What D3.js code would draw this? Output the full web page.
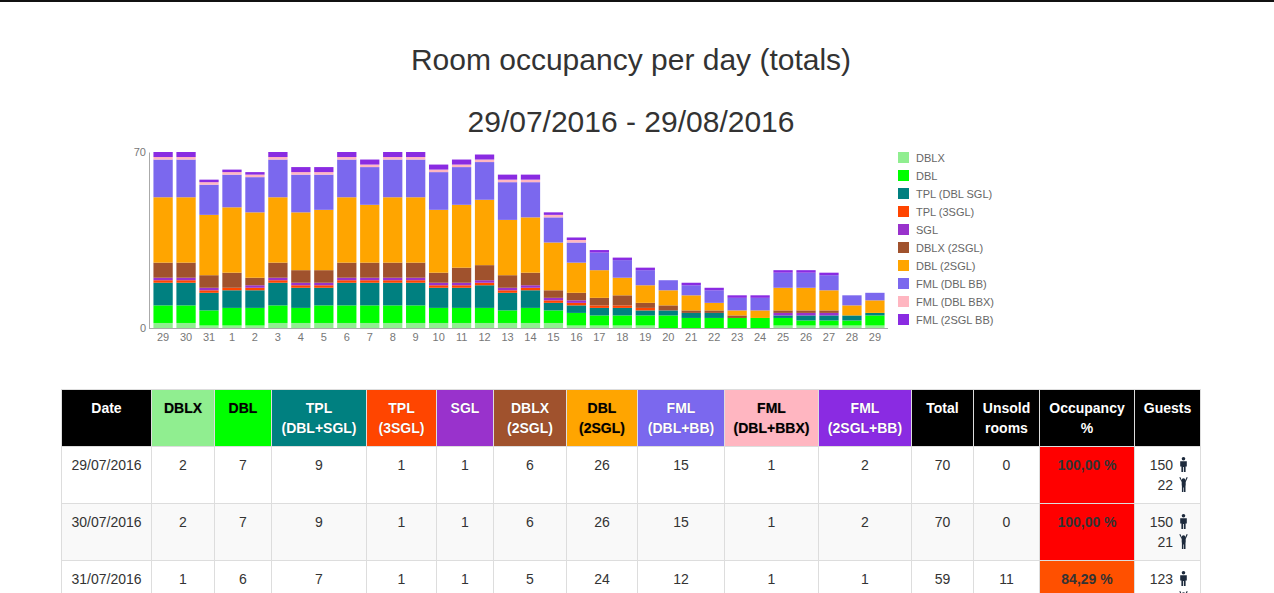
<!DOCTYPE html>
<html>
<head>
<meta charset="utf-8">
<script src="https://cdnjs.cloudflare.com/ajax/libs/d3/7.8.5/d3.min.js"></script>
<style>
  body { margin: 0; background: #fff; font-family: "Liberation Sans", Arial, sans-serif; color: #333; overflow: hidden; }
  .topline { position: absolute; left: 0; top: 0; width: 1274px; height: 2px; background: #111; }
  .title { position: absolute; left: 61px; width: 1140px; text-align: center; font-size: 30px; line-height: 33px; color: #333; }
  #chart { position: absolute; left: 0; top: 0; }
  table { position: absolute; left: 61px; top: 389px; width: 1140px; border-collapse: collapse; table-layout: fixed; font-size: 14px; }
  th, td { border: 1px solid #ddd; padding: 8px 4px; line-height: 20px; vertical-align: top; text-align: center; }
  th { font-weight: bold; height: 39px; text-shadow: 0 0 1px rgba(0,0,0,0.35); }
  td { height: 40px; }
  tr.odd td { background: #fff; }
  tr.even td { background: #f9f9f9; }
  td.occ { font-weight: bold; color: #333; }
  td.guests { text-align: right; padding-right: 12px; }
  .ico { display: inline-block; vertical-align: -2px; margin-left: 6px; }
</style>
</head>
<body>
<div class="topline"></div>
<div class="title" style="top:43px">Room occupancy per day (totals)</div>
<div class="title" style="top:105px">29/07/2016 - 29/08/2016</div>
<svg id="chart" width="1274" height="360"></svg>
<table id="tbl"></table>
<script>
// days on the x axis
let days = ["29","30","31","1","2","3","4","5","6","7","8","9","10","11","12","13","14","15","16","17","18","19","20","21","22","23","24","25","26","27","28","29"];
let dates = ["29/07/2016","30/07/2016","31/07/2016"];

// rooms sold per type, per day
let dblx    = [2,2,1,1,1,2,2,2,2,2,2,2,2,2,2,2,2,2,1,1,1,1,0,0,0,0,0,1,1,1,1,1];
let dbl     = [7,7,6,7,7,7,6,7,7,7,7,7,6,6,6,5,6,5,5,4,4,4,5,4,4,4,4,3,2,2,2,4];
let tpl     = [9,9,7,7,7,9,8,7,9,9,9,9,8,8,9,7,7,3,3,3,3,2,2,2,2,0,0,1,2,2,2,1];
let tpl3    = [1,1,1,1,1,1,1,1,1,1,1,1,1,1,1,1,1,1,1,1,1,1,0,0,0,0,0,0,0,0,0,0];
let sgl     = [1,1,1,0,1,1,1,1,1,1,1,1,1,1,1,1,1,1,1,0,0,0,0,0,0,0,0,1,1,1,0,0];
let dblx2   = [6,6,5,6,3,6,5,5,6,6,6,6,4,6,6,5,5,3,3,3,4,2,2,1,1,1,0,1,1,1,0,0];
let dbl2    = [26,26,24,26,26,26,23,24,26,23,26,26,25,25,26,22,22,19,12,11,7,7,6,6,3,2,3,9,9,8,4,5];
let fmlDbl  = [15,15,12,13,14,15,15,14,15,15,15,15,15,15,15,15,14,10,8,7,7,6,4,4,5,5,5,6,6,6,4,3];
let fmlBbx  = [1,1,1,1,1,1,1,1,1,1,1,1,1,1,1,1,1,1,1,0,0,0,0,0,0,0,0,0,0,0,0,0];
let fml2sgl = [2,2,1,1,1,2,2,2,2,2,2,2,2,2,2,2,2,1,1,1,1,1,0,1,1,1,1,1,1,1,0,0];

let series_names = ["DBLX","DBL","TPL (DBL SGL)","TPL (3SGL)","SGL","DBLX (2SGL)","DBL (2SGL)","FML (DBL BB)","FML (DBL BBX)","FML (2SGL BB)"];
let head_names = ["DBLX","DBL","TPL<br>(DBL+SGL)","TPL<br>(3SGL)","SGL","DBLX<br>(2SGL)","DBL<br>(2SGL)","FML<br>(DBL+BB)","FML<br>(DBL+BBX)","FML<br>(2SGL+BB)"];
let colors = ["#90ee90","#00ff00","#008080","#ff4500","#9932cc","#a0522d","#ffa500","#7b68ee","#ffb6c1","#8a2be2"];
let head_text = ["#000","#000","#fff","#fff","#fff","#fff","#000","#fff","#000","#fff"];

let capacity = 70;
let adults   = [150,150,123];
let children = [22,21,19];

let all_series = [dblx, dbl, tpl, tpl3, sgl, dblx2, dbl2, fmlDbl, fmlBbx, fml2sgl];
let keys = series_names;
let rows = days.map((d, i) => {
  let r = { i: i, day: d };
  keys.forEach((k, j) => r[k] = all_series[j][i]);
  return r;
});

let svg = d3.select("#chart");

//scales
let x_scale = d3.scaleBand()
        .domain(d3.range(days.length))
        .range([150, 888])
        .paddingInner(0.16)
        .paddingOuter(0.15);

let y_scale = d3.scaleLinear()
        .domain([0, capacity])
        .range([328, 152]);

let color = d3.scaleOrdinal().domain(keys).range(colors);

let stacked = d3.stack().keys(keys)(rows);

//bars
svg.append('g')
  .selectAll('g')
  .data(stacked)
  .enter()
  .append('g')
  .attr('fill', d => color(d.key))
  .selectAll('rect')
  .data(d => d)
  .enter()
  .append('rect')
  .attr('x', d => x_scale(d.data.i))
  .attr('y', d => y_scale(d[1]))
  .attr('height', d => y_scale(d[0]) - y_scale(d[1]))
  .attr('width', x_scale.bandwidth());

//axis
let x_axis = d3.axisBottom(x_scale)
        .tickSize(0)
        .tickSizeOuter(0)
        .tickPadding(5)
        .tickFormat(i => days[i]);

let y_axis = d3.axisLeft(y_scale)
        .tickValues([0, capacity])
        .tickSize(0)
        .tickSizeOuter(0)
        .tickPadding(3);

let gx = svg.append('g')
  .attr('transform', 'translate(0,328)')
  .call(x_axis);
gx.select('.domain').attr('d', 'M149,0.5H888');

let gy = svg.append('g')
  .attr('transform', 'translate(149,0)')
  .call(y_axis);

svg.selectAll('.domain').attr('stroke', '#aaa');
svg.selectAll('.tick text')
  .attr('fill', '#777')
  .style('font-family', '"Liberation Sans", Arial, sans-serif')
  .style('font-size', '11px');

//legend
let legend = svg.append('g')
  .selectAll('g')
  .data(keys)
  .enter()
  .append('g')
  .attr('transform', (d, i) => 'translate(898,' + (152 + i * 18) + ')');

legend.append('rect')
  .attr('width', 11)
  .attr('height', 11)
  .attr('fill', d => color(d));

legend.append('text')
  .attr('x', 18)
  .attr('y', 9.5)
  .attr('fill', '#666')
  .style('font-size', '11px')
  .text(d => d);

//table
let col_w = [90,63,57,95,70,57,73,71,87,94,93,62,66,95,66];
let tbl = d3.select('#tbl');
tbl.append('colgroup')
  .selectAll('col')
  .data(col_w)
  .enter()
  .append('col')
  .style('width', d => d + 'px');

let head = tbl.append('thead').append('tr');
head.append('th').style('background', '#000').style('color', '#fff').text('Date');
head.selectAll('th.room')
  .data(head_names)
  .enter()
  .append('th')
  .attr('class', 'room')
  .style('background', (d, i) => colors[i])
  .style('color', (d, i) => head_text[i])
  .html(d => d);
["Total", "Unsold<br>rooms", "Occupancy<br>%", "Guests"].forEach(t =>
  head.append('th').style('background', '#000').style('color', '#fff').html(t));

let man = '<svg class="ico" width="9" height="15" viewBox="0 0 9 15"><circle cx="4.5" cy="1.8" r="1.8" fill="#1d2a3c"/><path d="M1.2,4.2h6.6v5.2h-1.2v5.6h-1.7v-5h-0.8v5h-1.7v-5.6h-1.2z" fill="#1d2a3c"/></svg>';
let kid = '<svg class="ico" width="9" height="15" viewBox="0 0 9 15"><circle cx="4.5" cy="3" r="1.8" fill="#1d2a3c"/><path d="M0.3,0.5l1,-0.4l1.6,3.4h3.2l1.6,-3.4l1,0.4l-2,4.6v3.3h-0.2v6.6h-1.5v-4.5h-0.6v4.5h-1.5v-6.6h-0.2v-3.3z" fill="#1d2a3c"/></svg>';

let body = tbl.append('tbody');
dates.forEach((dt, i) => {
  let vals = all_series.map(s => s[i]);
  let total = d3.sum(vals);
  let occ = total / capacity * 100;
  let tr = body.append('tr').attr('class', i % 2 ? 'even' : 'odd');
  tr.append('td').text(dt);
  vals.forEach(v => tr.append('td').text(v));
  tr.append('td').text(total);
  tr.append('td').text(capacity - total);
  tr.append('td')
    .attr('class', 'occ')
    .style('background', occ >= 100 ? '#ff0000' : '#ff5000')
    .text(occ.toFixed(2).replace('.', ',') + ' %');
  tr.append('td')
    .attr('class', 'guests')
    .html(adults[i] + man + '<br>' + children[i] + kid);
});
</script>
</body>
</html>
